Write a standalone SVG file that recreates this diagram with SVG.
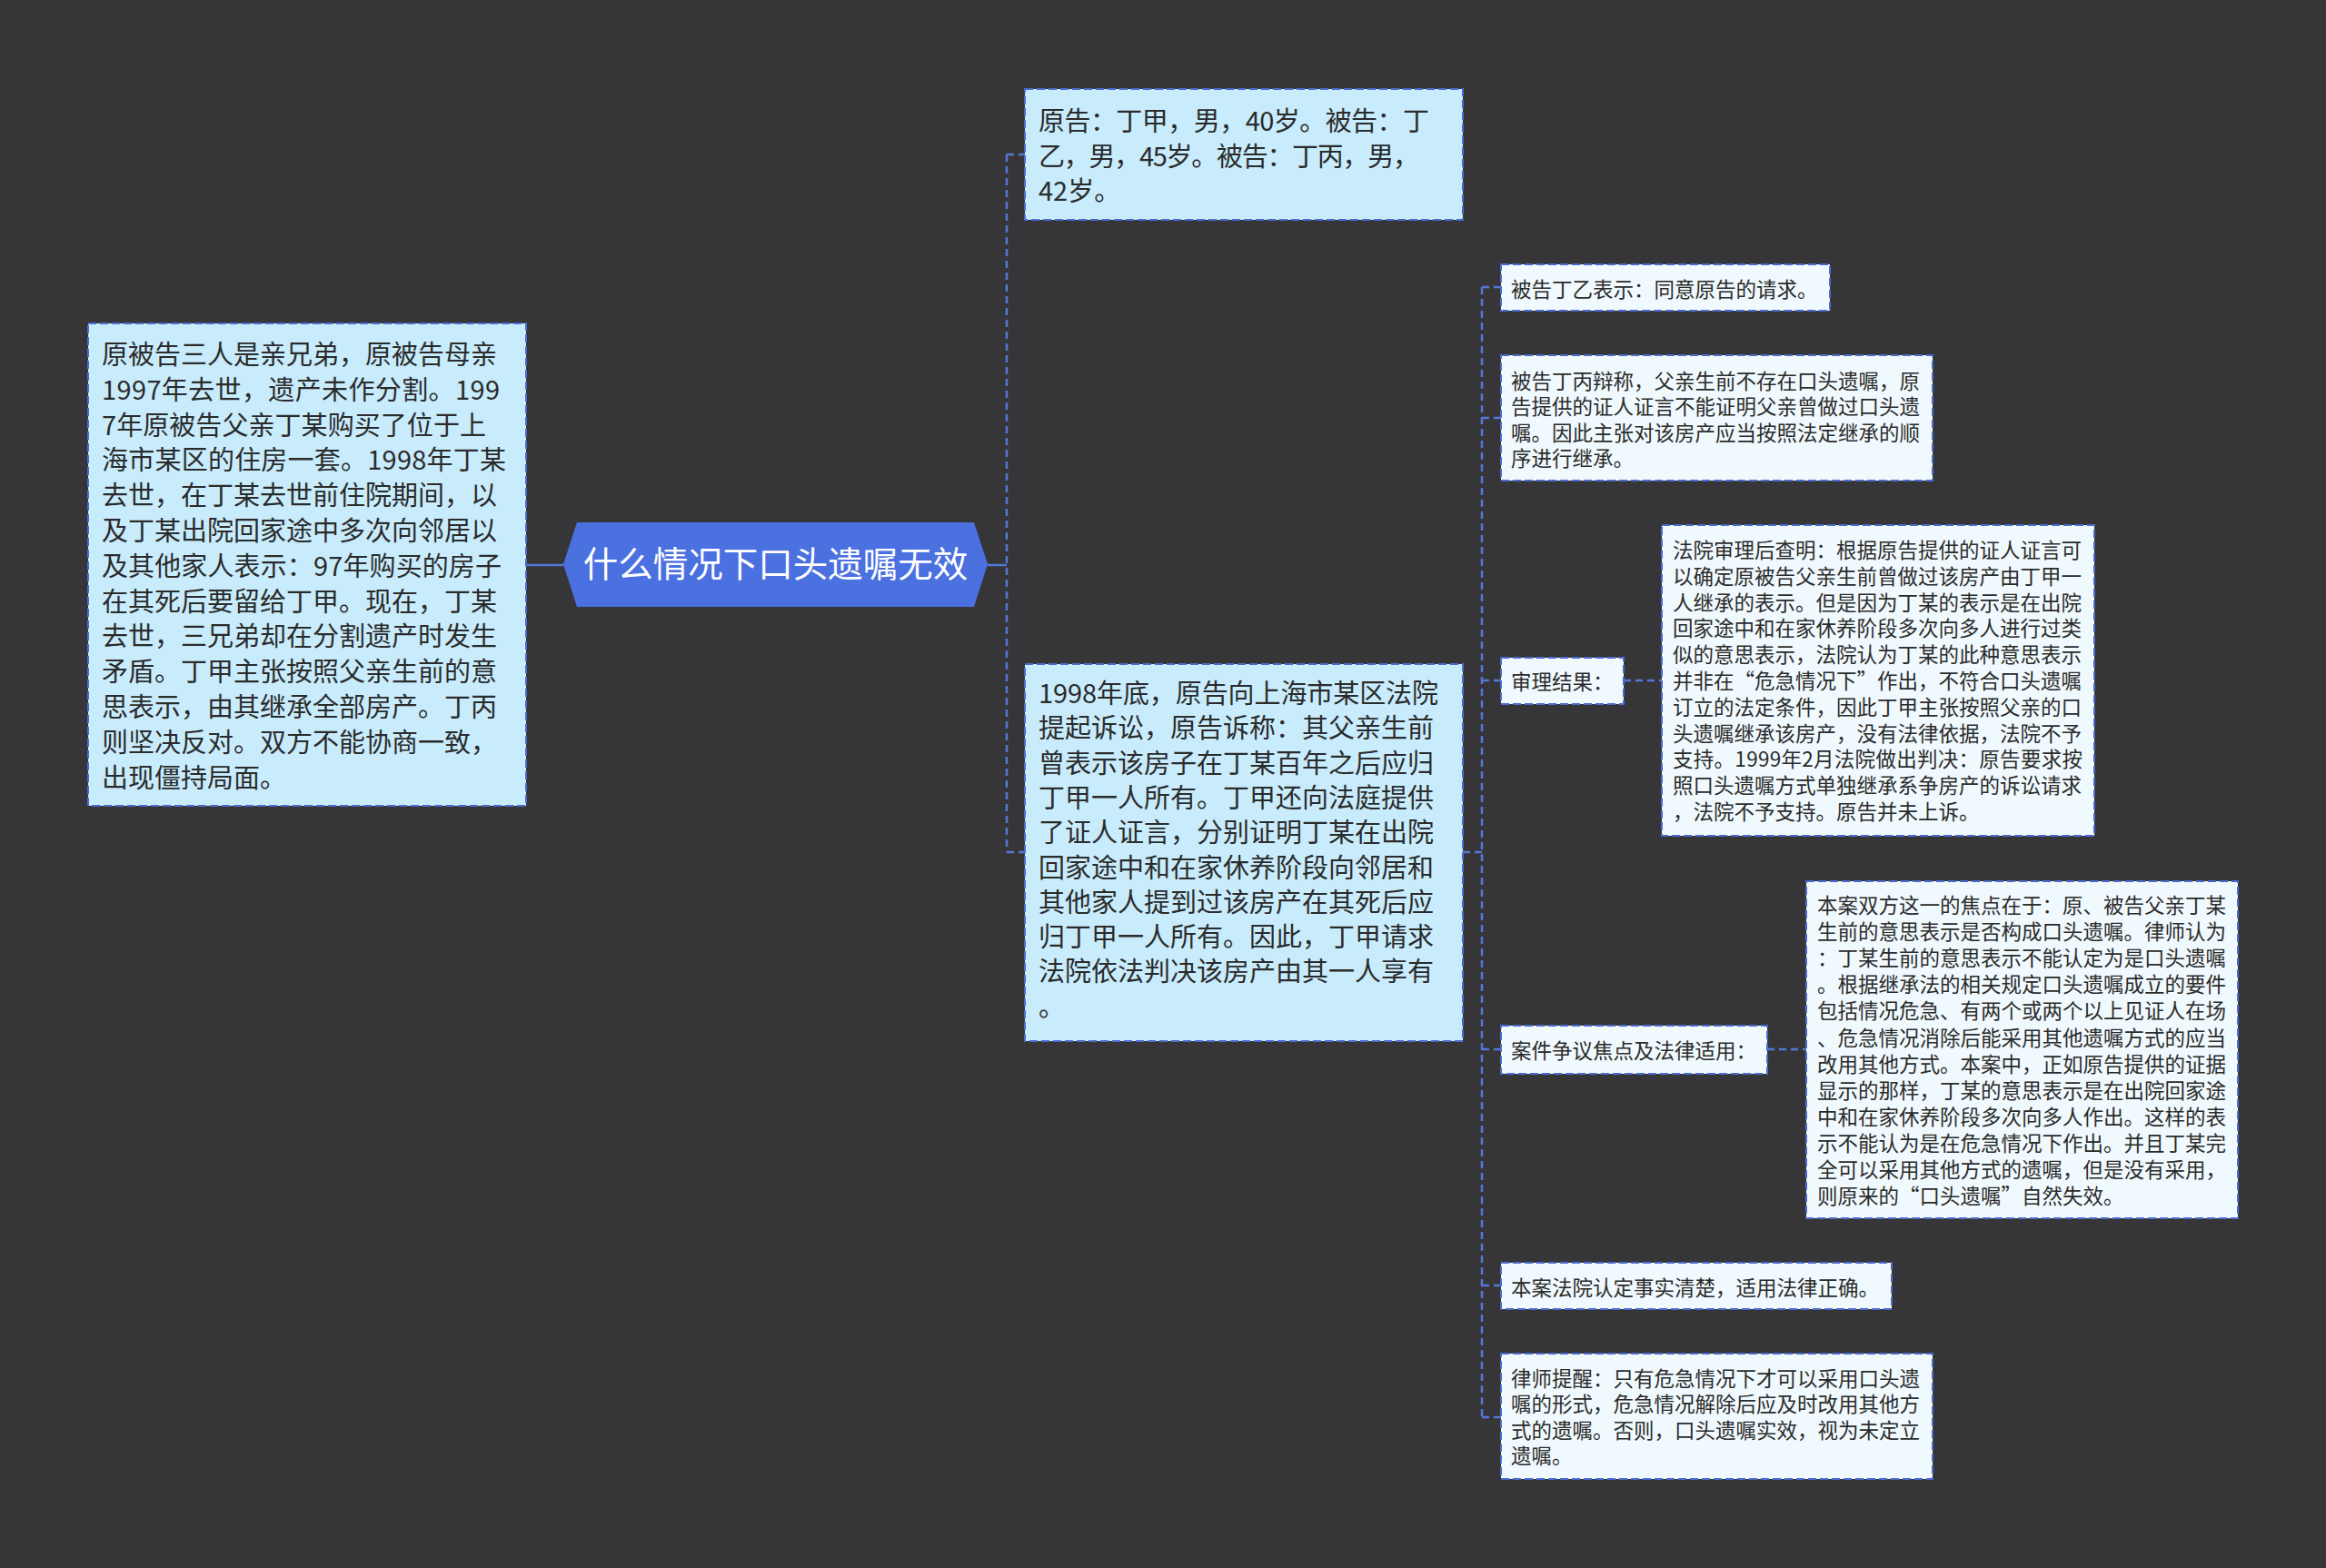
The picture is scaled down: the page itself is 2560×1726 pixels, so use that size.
<svg xmlns="http://www.w3.org/2000/svg" width="2560" height="1726" viewBox="0 0 2560 1726">
<style>
.l1 { fill: #c8ecfc; stroke: #4a6bd0; stroke-width: 2; stroke-dasharray: 9 4; }
.l2 { fill: #f0f9fd; stroke: #4a6bd0; stroke-width: 2; stroke-dasharray: 9 4; }
.t1 { font-family: "Noto Sans CJK SC", "Liberation Sans", sans-serif; font-size: 29px; fill: #2b2b2b; }
.t2 { font-family: "Noto Sans CJK SC", "Liberation Sans", sans-serif; font-size: 22.5px; fill: #2b2b2b; }
.conn { fill: none; stroke: #5577d8; stroke-width: 2.5; stroke-dasharray: 8 5; }
.solid { fill: none; stroke: #5577d8; stroke-width: 2.5; }
</style>
<rect x="0" y="0" width="2560" height="1726" fill="#363538"/>
<g id="connectors">
  <path class="solid" d="M579 622 H620"/>
  <path class="solid" d="M1087 622 H1108"/>
  <path class="conn" d="M1108 170 V938"/>
  <path class="conn" d="M1108 170 H1128"/>
  <path class="conn" d="M1108 938 H1128"/>
  <path class="conn" d="M1610 938 H1631"/>
  <path class="conn" d="M1631 316 V1560"/>
  <path class="conn" d="M1631 316 H1652"/>
  <path class="conn" d="M1631 460 H1652"/>
  <path class="conn" d="M1631 749 H1652"/>
  <path class="conn" d="M1631 1155 H1652"/>
  <path class="conn" d="M1631 1415 H1652"/>
  <path class="conn" d="M1631 1560 H1652"/>
  <path class="conn" d="M1787 749 H1829"/>
  <path class="conn" d="M1945 1155 H1988"/>
</g>
<g id="center">
  <polygon points="620,621 635,575 1072,575 1087,621 1072,668 635,668" fill="#4b70e0"/>
  <text x="853.5" y="635" text-anchor="middle" font-family="Noto Sans CJK SC, Liberation Sans, sans-serif" font-size="38.5" fill="#ffffff">什么情况下口头遗嘱无效</text>
</g>
<g id="left-node">
  <rect class="l1" x="97" y="356" width="482" height="531"/>
  <text class="t1">
    <tspan x="112" y="401">原被告三人是亲兄弟，原被告母亲</tspan>
    <tspan x="112" y="439.8" textLength="438">1997年去世，遗产未作分割。199</tspan>
    <tspan x="112" y="478.6" textLength="423">7年原被告父亲丁某购买了位于上</tspan>
    <tspan x="112" y="517.4" textLength="445">海市某区的住房一套。1998年丁某</tspan>
    <tspan x="112" y="556.2">去世，在丁某去世前住院期间，以</tspan>
    <tspan x="112" y="595">及丁某出院回家途中多次向邻居以</tspan>
    <tspan x="112" y="633.8" textLength="440">及其他家人表示：97年购买的房子</tspan>
    <tspan x="112" y="672.6">在其死后要留给丁甲。现在，丁某</tspan>
    <tspan x="112" y="711.4">去世，三兄弟却在分割遗产时发生</tspan>
    <tspan x="112" y="750.2">矛盾。丁甲主张按照父亲生前的意</tspan>
    <tspan x="112" y="789">思表示，由其继承全部房产。丁丙</tspan>
    <tspan x="112" y="827.8">则坚决反对。双方不能协商一致，</tspan>
    <tspan x="112" y="866.6">出现僵持局面。</tspan>
  </text>
</g>
<g id="node-parties">
  <rect class="l1" x="1128" y="98" width="482" height="144"/>
  <text class="t1">
    <tspan x="1143" y="144" textLength="430">原告：丁甲，男，40岁。被告：丁</tspan>
    <tspan x="1143" y="182.5" textLength="419">乙，男，45岁。被告：丁丙，男，</tspan>
    <tspan x="1143" y="221">42岁。</tspan>
  </text>
</g>
<g id="node-lawsuit">
  <rect class="l1" x="1128" y="731" width="482" height="415"/>
  <text class="t1">
    <tspan x="1143" y="774" textLength="440">1998年底，原告向上海市某区法院</tspan>
    <tspan x="1143" y="812.3">提起诉讼，原告诉称：其父亲生前</tspan>
    <tspan x="1143" y="850.6">曾表示该房子在丁某百年之后应归</tspan>
    <tspan x="1143" y="888.9">丁甲一人所有。丁甲还向法庭提供</tspan>
    <tspan x="1143" y="927.2">了证人证言，分别证明丁某在出院</tspan>
    <tspan x="1143" y="965.5">回家途中和在家休养阶段向邻居和</tspan>
    <tspan x="1143" y="1003.8">其他家人提到过该房产在其死后应</tspan>
    <tspan x="1143" y="1042.1">归丁甲一人所有。因此，丁甲请求</tspan>
    <tspan x="1143" y="1080.4">法院依法判决该房产由其一人享有</tspan>
    <tspan x="1143" y="1118.7">。</tspan>
  </text>
</g>
<g id="node-yi">
  <rect class="l2" x="1652" y="291" width="362" height="51"/>
  <text class="t2" x="1663" y="327">被告丁乙表示：同意原告的请求。</text>
</g>
<g id="node-bing">
  <rect class="l2" x="1652" y="391" width="475" height="138"/>
  <text class="t2">
    <tspan x="1663" y="427.5">被告丁丙辩称，父亲生前不存在口头遗嘱，原</tspan>
    <tspan x="1663" y="456">告提供的证人证言不能证明父亲曾做过口头遗</tspan>
    <tspan x="1663" y="484.5">嘱。因此主张对该房产应当按照法定继承的顺</tspan>
    <tspan x="1663" y="513">序进行继承。</tspan>
  </text>
</g>
<g id="node-result">
  <rect class="l2" x="1652" y="724" width="135" height="51"/>
  <text class="t2" x="1663" y="759">审理结果：</text>
</g>
<g id="node-result-detail">
  <rect class="l2" x="1829" y="578" width="476" height="342"/>
  <text class="t2">
    <tspan x="1841" y="614">法院审理后查明：根据原告提供的证人证言可</tspan>
    <tspan x="1841" y="642.8">以确定原被告父亲生前曾做过该房产由丁甲一</tspan>
    <tspan x="1841" y="671.6">人继承的表示。但是因为丁某的表示是在出院</tspan>
    <tspan x="1841" y="700.4">回家途中和在家休养阶段多次向多人进行过类</tspan>
    <tspan x="1841" y="729.2">似的意思表示，法院认为丁某的此种意思表示</tspan>
    <tspan x="1841" y="758">并非在“危急情况下”作出，不符合口头遗嘱</tspan>
    <tspan x="1841" y="786.8">订立的法定条件，因此丁甲主张按照父亲的口</tspan>
    <tspan x="1841" y="815.6">头遗嘱继承该房产，没有法律依据，法院不予</tspan>
    <tspan x="1841" y="844.4" textLength="451">支持。1999年2月法院做出判决：原告要求按</tspan>
    <tspan x="1841" y="873.2">照口头遗嘱方式单独继承系争房产的诉讼请求</tspan>
    <tspan x="1841" y="902">，法院不予支持。原告并未上诉。</tspan>
  </text>
</g>
<g id="node-focus">
  <rect class="l2" x="1652" y="1129" width="293" height="53"/>
  <text class="t2" x="1663" y="1165">案件争议焦点及法律适用：</text>
</g>
<g id="node-focus-detail">
  <rect class="l2" x="1988" y="970" width="475" height="371"/>
  <text class="t2">
    <tspan x="2000" y="1005">本案双方这一的焦点在于：原、被告父亲丁某</tspan>
    <tspan x="2000" y="1034.1">生前的意思表示是否构成口头遗嘱。律师认为</tspan>
    <tspan x="2000" y="1063.2">：丁某生前的意思表示不能认定为是口头遗嘱</tspan>
    <tspan x="2000" y="1092.3">。根据继承法的相关规定口头遗嘱成立的要件</tspan>
    <tspan x="2000" y="1121.4">包括情况危急、有两个或两个以上见证人在场</tspan>
    <tspan x="2000" y="1150.5">、危急情况消除后能采用其他遗嘱方式的应当</tspan>
    <tspan x="2000" y="1179.6">改用其他方式。本案中，正如原告提供的证据</tspan>
    <tspan x="2000" y="1208.7">显示的那样，丁某的意思表示是在出院回家途</tspan>
    <tspan x="2000" y="1237.8">中和在家休养阶段多次向多人作出。这样的表</tspan>
    <tspan x="2000" y="1266.9">示不能认为是在危急情况下作出。并且丁某完</tspan>
    <tspan x="2000" y="1296">全可以采用其他方式的遗嘱，但是没有采用，</tspan>
    <tspan x="2000" y="1325.1">则原来的“口头遗嘱”自然失效。</tspan>
  </text>
</g>
<g id="node-court">
  <rect class="l2" x="1652" y="1390" width="430" height="51"/>
  <text class="t2" x="1663" y="1426">本案法院认定事实清楚，适用法律正确。</text>
</g>
<g id="node-lawyer">
  <rect class="l2" x="1652" y="1490" width="475" height="138"/>
  <text class="t2">
    <tspan x="1663" y="1525.5">律师提醒：只有危急情况下才可以采用口头遗</tspan>
    <tspan x="1663" y="1554">嘱的形式，危急情况解除后应及时改用其他方</tspan>
    <tspan x="1663" y="1582.5">式的遗嘱。否则，口头遗嘱实效，视为未定立</tspan>
    <tspan x="1663" y="1611">遗嘱。</tspan>
  </text>
</g>
</svg>
